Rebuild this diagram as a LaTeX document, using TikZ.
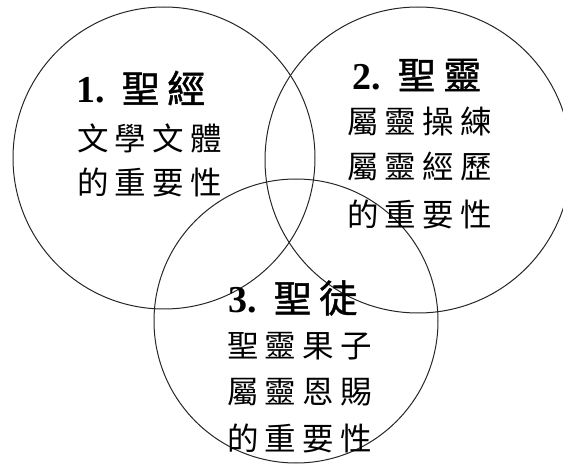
\documentclass[tikz,border=0pt]{standalone}
\usepackage{fontspec}
\setmainfont{Liberation Serif}
\newfontfamily\cjk{Noto Sans CJK TC}[LetterSpace=20]
\newfontfamily\cjkhead{Noto Sans CJK TC}[LetterSpace=20,FakeBold=1.2]

\tikzset{
  ring/.style={draw=black!85,line width=1pt},
  head/.style={anchor=west,inner sep=0pt,font=\fontsize{38}{40}\selectfont},
  body/.style={anchor=west,inner sep=0pt,font=\fontsize{31.5}{40}\selectfont\cjk},
}

\begin{document}
\begin{tikzpicture}[x=1pt,y=-1pt]
  \clip (0,0) rectangle (563,465);
  \draw[ring] (164,158) circle[radius=151pt];
  \draw[ring] (418,160) circle[radius=153pt];
  \draw[ring] (296,321) circle[radius=142pt];

  % 1
  \node[head] (bible) at (76,88) {\textbf{1.}\hspace{17pt}\cjkhead 聖經};
  \node[body] (bibleA) at (77,138) {文學文體};
  \node[body] (bibleB) at (77,182) {的重要性};

  % 2
  \node[head] (spirit) at (352,75) {\textbf{2.}\hspace{17pt}\cjkhead 聖靈};
  \node[body] (spiritA) at (347,122) {屬靈操練};
  \node[body] (spiritB) at (347,166) {屬靈經歷};
  \node[body] (spiritC) at (347,214) {的重要性};

  % 3
  \node[head] (saint) at (228,298) {\textbf{3.}\hspace{17pt}\cjkhead 聖徒};
  \node[body] (saintA) at (227,346) {聖靈果子};
  \node[body] (saintB) at (227,392) {屬靈恩賜};
  \node[body] (saintC) at (227,438) {的重要性};
\end{tikzpicture}
\end{document}
